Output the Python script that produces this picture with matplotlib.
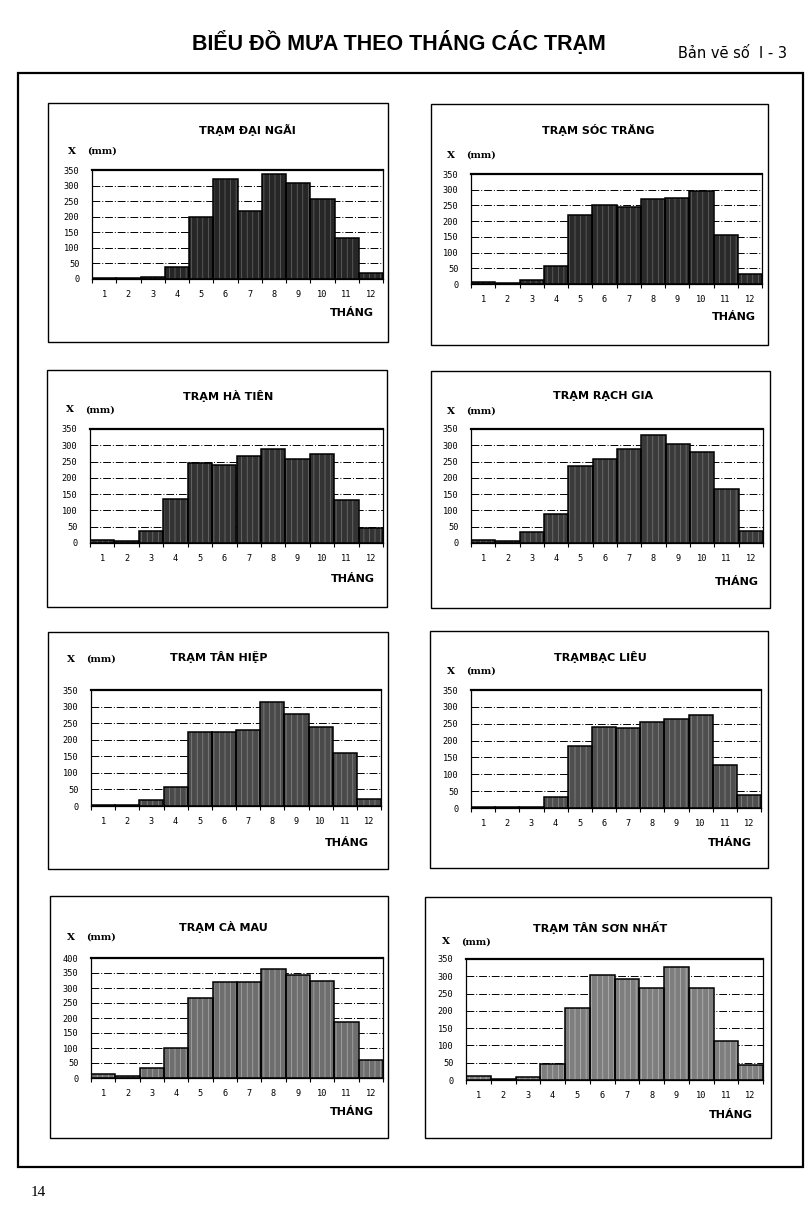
import matplotlib
matplotlib.use("Agg")
import matplotlib.pyplot as plt
from matplotlib.patches import Rectangle
import numpy as np

W, H = 811, 1210

months = ["1", "2", "3", "4", "5", "6", "7", "8", "9", "10", "11", "12"]

dai_ngai = [2, 4, 5, 40, 200, 320, 218, 338, 307, 258, 133, 18]
soc_trang = [7, 3, 13, 58, 218, 250, 246, 270, 275, 295, 155, 33]
ha_tien = [10, 7, 38, 135, 247, 238, 268, 288, 258, 274, 133, 47]
rach_gia = [9, 5, 35, 90, 237, 258, 290, 333, 303, 278, 167, 37]
tan_hiep = [2, 2, 18, 57, 222, 222, 230, 313, 278, 237, 160, 20]
bac_lieu = [4, 2, 3, 33, 185, 241, 237, 256, 265, 275, 127, 40]
ca_mau = [15, 6, 32, 100, 268, 320, 320, 362, 345, 325, 186, 60]
tan_son_nhat = [12, 3, 8, 45, 208, 305, 293, 265, 327, 265, 112, 43]

titles = ["TRẠM ĐẠI NGÃI", "TRẠM SÓC TRĂNG", "TRẠM HÀ TIÊN", "TRẠM RẠCH GIA",
          "TRẠM TÂN HIỆP", "TRẠMBẠC LIÊU", "TRẠM CÀ MAU", "TRẠM TÂN SƠN NHẤT"]
series = [dai_ngai, soc_trang, ha_tien, rach_gia, tan_hiep, bac_lieu, ca_mau, tan_son_nhat]
ymaxes = [350, 350, 350, 350, 350, 350, 400, 350]

layouts = [
    dict(box=(48, 103, 388, 342), ax=(92, 170, 383, 279), ty=130, xy=151, th=(352, 313)),
    dict(box=(431, 104, 768, 345), ax=(471, 174, 762, 284), ty=130, xy=155, th=(734, 317)),
    dict(box=(47, 370, 387, 607), ax=(90, 429, 383, 543), ty=396, xy=410, th=(353, 579)),
    dict(box=(431, 371, 770, 608), ax=(471, 429, 763, 543), ty=396, xy=411, th=(737, 582)),
    dict(box=(48, 632, 388, 869), ax=(91, 690, 381, 806), ty=657, xy=659, th=(347, 843)),
    dict(box=(430, 631, 768, 868), ax=(471, 690, 761, 808), ty=657, xy=671, th=(730, 843)),
    dict(box=(50, 896, 388, 1138), ax=(91, 958, 383, 1078), ty=927, xy=937, th=(352, 1112)),
    dict(box=(425, 897, 771, 1138), ax=(466, 959, 763, 1080), ty=928, xy=942, th=(731, 1115)),
]
title_x = [247, 598, 228, 603, 219, 600, 223, 600]
facecolors = ["#262626", "#2a2a2a", "#333333", "#3a3a3a", "#4a4a4a", "#4e4e4e", "#6e6e6e", "#7e7e7e"]
hatchcolors = ["#6a6a6a", "#6a6a6a", "#777777", "#7a7a7a", "#8a8a8a", "#8e8e8e", "#b0b0b0", "#bcbcbc"]

plt.rcParams['font.family'] = ['DejaVu Sans']
plt.rcParams['hatch.linewidth'] = 0.5

fig = plt.figure(figsize=(W / 100, H / 100), dpi=100)
fig.patch.set_facecolor("white")

def fx(x):
    return x / W

def fy(y):
    return 1 - y / H

fig.text(fx(399), fy(43), "BIỂU ĐỒ MƯA THEO THÁNG CÁC TRẠM", ha="center", va="center",
         fontsize=15.5, fontweight="bold", family=["Liberation Sans"])
fig.text(fx(733), fy(53), "Bản vẽ số  I - 3", ha="center", va="center", fontsize=10.5,
         family=["DejaVu Sans"])
fig.text(fx(38), fy(1193), "14", ha="center", va="center", fontsize=11,
         family=["Liberation Serif"])

fig.patches.append(Rectangle((fx(18), fy(1167)), fx(803) - fx(18), fy(73) - fy(1167),
                             transform=fig.transFigure, fill=False, edgecolor="black",
                             linewidth=1.6))

for i in range(8):
    L = layouts[i]
    bx0, by0, bx1, by1 = L["box"]
    fig.patches.append(Rectangle((fx(bx0), fy(by1)), fx(bx1) - fx(bx0), fy(by0) - fy(by1),
                                 transform=fig.transFigure, fill=False, edgecolor="black",
                                 linewidth=1.0))
    ax0, ay0, ax1, ay1 = L["ax"]
    ax = fig.add_axes([fx(ax0), fy(ay1), fx(ax1) - fx(ax0), fy(ay0) - fy(ay1)])
    x = np.arange(1, 13)
    ax.bar(x, series[i], width=1.0, color=facecolors[i], edgecolor=hatchcolors[i],
           hatch="|||", linewidth=0, zorder=2)
    ax.bar(x, series[i], width=1.0, fill=False, edgecolor="black", linewidth=1.1, zorder=3)
    ymax = ymaxes[i]
    ax.set_xlim(0.5, 12.5)
    ax.set_ylim(0, ymax)
    ticks = np.arange(0, ymax + 1, 50)
    ax.set_yticks(ticks)
    ax.set_yticklabels([str(t) for t in ticks], fontsize=6.2, family=["DejaVu Sans Mono"])
    ax.tick_params(axis="y", length=0, pad=9)
    for t in ticks[1:-1]:
        ax.axhline(t, color="black", linewidth=0.7, linestyle=(0, (8, 2, 1, 2)), zorder=1)
    ax.set_xticks(x)
    ax.set_xticklabels(months, fontsize=6.2, family=["DejaVu Sans Mono"])
    ax.tick_params(axis="x", which="major", length=0, pad=8)
    ax.set_xticks(np.arange(0.5, 13, 1), minor=True)
    ax.tick_params(axis="x", which="minor", length=3, width=0.8, direction="out")
    for s in ["left", "right", "bottom"]:
        ax.spines[s].set_linewidth(0.9)
    ax.spines["top"].set_linewidth(1.6)
    fig.text(fx(title_x[i]), fy(L["ty"]), titles[i], ha="center", va="center",
             fontsize=8, fontweight="bold", family=["DejaVu Sans"])
    fig.text(fx(ax0 - 20), fy(L["xy"]), "X", ha="center", va="center", fontsize=7.5,
             fontweight="bold", family=["DejaVu Serif"])
    fig.text(fx(ax0 + 10), fy(L["xy"]), "(mm)", ha="center", va="center", fontsize=7,
             fontweight="bold", family=["DejaVu Serif"])
    fig.text(fx(L["th"][0]), fy(L["th"][1]), "THÁNG", ha="center", va="center",
             fontsize=8, fontweight="bold", family=["DejaVu Sans"])

fig.savefig("out.png", dpi=100, facecolor="white")
